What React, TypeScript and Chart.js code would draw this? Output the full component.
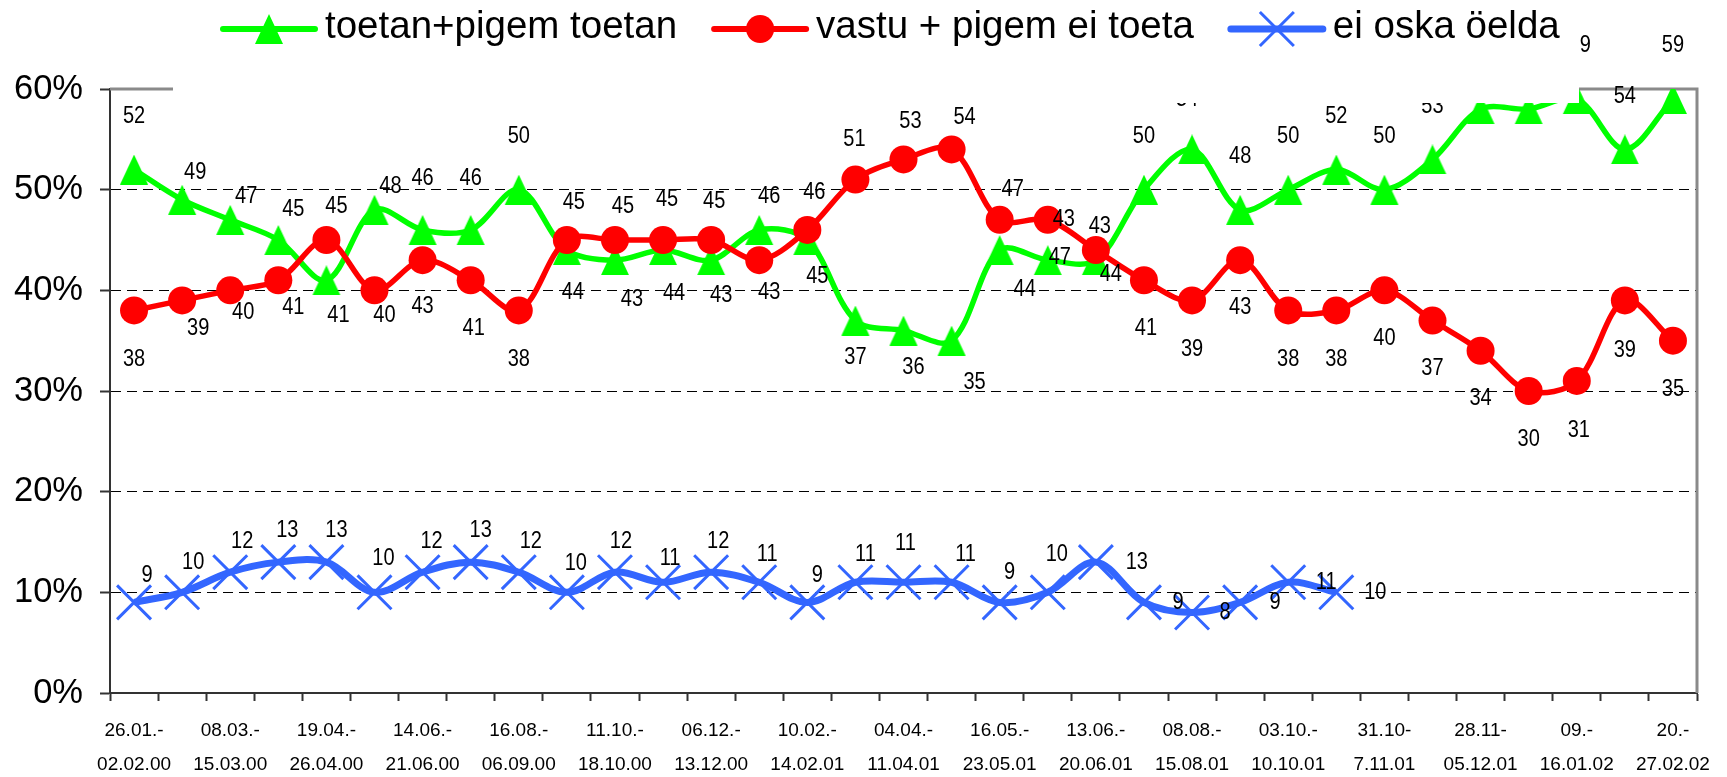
import React, { useEffect, useRef } from 'react';
import { Chart, registerables } from 'chart.js';

Chart.register(...registerables);

const FONT = "'Liberation Sans', Arial, Helvetica, sans-serif";

// Survey periods (every second one is printed on the axis)
const dateLabels: string[][] = [
  ['26.01.-', '02.02.00'],
  ['08.03.-', '15.03.00'],
  ['19.04.-', '26.04.00'],
  ['14.06.-', '21.06.00'],
  ['16.08.-', '06.09.00'],
  ['11.10.-', '18.10.00'],
  ['06.12.-', '13.12.00'],
  ['10.02.-', '14.02.01'],
  ['04.04.-', '11.04.01'],
  ['16.05.-', '23.05.01'],
  ['13.06.-', '20.06.01'],
  ['08.08.-', '15.08.01'],
  ['03.10.-', '10.10.01'],
  ['31.10-', '7.11.01'],
  ['28.11-', '05.12.01'],
  ['09.-', '16.01.02'],
  ['20.-', '27.02.02'],
];

const seriesNames = ['toetan+pigem toetan', 'vastu + pigem ei toeta', 'ei oska öelda'];

const supportValues = [52, 49, 47, 45, 41, 48, 46, 46, 50, 44, 43, 44, 43, 46, 45, 37, 36, 35, 44, 43, 43, 50, 54, 48, 50, 52, 50, 53, 58, 58, 59, 54, 59];
const againstValues = [38, 39, 40, 41, 45, 40, 43, 41, 38, 45, 45, 45, 45, 43, 46, 51, 53, 54, 47, 47, 44, 41, 39, 43, 38, 38, 40, 37, 34, 30, 31, 39, 35];
const dontKnowValues = [9, 10, 12, 13, 13, 10, 12, 13, 12, 10, 12, 11, 12, 11, 9, 11, 11, 11, 9, 10, 13, 9, 8, 9, 11, 10];

const yTicks = [0, 10, 20, 30, 40, 50, 60];

// label placement (pixel offsets from the marker)
const supportLabelOffsets: number[][] = [
  [0, -53], [13, -27], [16, -23], [15, -30], [12, 35], [16, -23], [0, -51], [0, -51], [0, -53], [6, 43],
  [17, 40], [11, 44], [10, 36], [10, -33], [10, 37], [0, 37], [10, 37], [23, 42], [25, 40], [16, -40],
  [4, -33], [0, -53], [-5, -50], [0, -53], [0, -53], [0, -53], [0, -53], [0, -53], [0, -53], [0, -53],
  [3, -53], [0, -53], [0, -53],
];
const againstLabelOffsets: number[][] = [
  [0, 49], [16, 28], [13, 22], [15, 27], [10, -33], [10, 25], [0, 47], [3, 48], [0, 49], [7, -37],
  [8, -33], [4, -40], [3, -38], [10, 33], [7, -37], [-1, -40], [7, -38], [13, -32], [13, -30], [12, 38],
  [15, 25], [2, 48], [0, 49], [0, 48], [0, 49], [0, 49], [0, 48], [0, 48], [0, 48], [0, 49],
  [2, 50], [0, 50], [0, 49],
];
const dontKnowLabelOffsets: number[][] = [
  [13, -27], [11, -30], [12, -31], [9, -31], [10, -31], [9, -34], [9, -31], [10, -31], [12, -31], [9, -29],
  [6, -31], [7, -24], [7, -31], [8, -28], [10, -27], [10, -28], [2, -39], [14, -28], [10, -30], [9, -38],
  [41, 1], [34, 0], [33, 0], [35, 0], [38, 0], [39, 0],
];

const GREEN = '#00FF00';
const RED = '#FF0000';
const BLUE = '#3366FF';

function makeTriangle(color: string): HTMLCanvasElement {
  const c = document.createElement('canvas');
  c.width = 30;
  c.height = 30;
  const g = c.getContext('2d')!;
  g.fillStyle = color;
  g.beginPath();
  g.moveTo(15, 0);
  g.lineTo(29, 30);
  g.lineTo(1, 30);
  g.closePath();
  g.fill();
  return c;
}

export default function App() {
  const canvasRef = useRef<HTMLCanvasElement | null>(null);

  useEffect(() => {
    const canvas = canvasRef.current;
    if (!canvas) return;
    const tri = makeTriangle(GREEN);

    const categories: any[] = [];
    for (let i = 0; i < supportValues.length; i++) {
      categories.push(i % 2 === 0 ? dateLabels[i / 2] : '');
    }

    const offsets = [supportLabelOffsets, againstLabelOffsets, dontKnowLabelOffsets];

    const framePlugin = {
      id: 'frame',
      beforeDatasetsDraw(chart: any) {
        const { ctx, chartArea } = chart;
        ctx.save();
        ctx.strokeStyle = '#8a8a8a';
        ctx.lineWidth = 3;
        ctx.beginPath();
        ctx.moveTo(chartArea.left, chartArea.top);
        ctx.lineTo(chartArea.right, chartArea.top);
        ctx.lineTo(chartArea.right, chartArea.bottom);
        ctx.stroke();
        ctx.restore();
      },
    };

    const labelPlugin = {
      id: 'valueLabels',
      afterDatasetsDraw(chart: any) {
        const ctx = chart.ctx;
        const sx = 0.87;
        chart.data.datasets.forEach((ds: any, di: number) => {
          const meta = chart.getDatasetMeta(di);
          const offs = offsets[di];
          meta.data.forEach((el: any, i: number) => {
            const v = ds.data[i];
            if (v == null) return;
            const o = offs[i] || [0, -30];
            ctx.save();
            ctx.translate(el.x + o[0], el.y + o[1]);
            ctx.scale(sx, 1);
            ctx.font = `23px ${FONT}`;
            ctx.fillStyle = '#000';
            ctx.textAlign = 'center';
            ctx.textBaseline = 'middle';
            ctx.fillText(String(v), 0, 0);
            ctx.restore();
          });
        });
      },
    };

    const legendPlugin = {
      id: 'customLegend',
      afterDraw(chart: any) {
        const ctx = chart.ctx;
        ctx.save();
        // legend box (white) overlapping the top of the plot
        ctx.fillStyle = '#fff';
        ctx.fillRect(173, 0, 1579 - 173, 103);

        ctx.font = `38.5px ${FONT}`;
        const lineLen = 92;
        const textGap = 10;
        const itemGap = 37;
        const widths = seriesNames.map((n) => ctx.measureText(n).width);
        let x = 223;
        const y = 29;
        const colors = [GREEN, RED, BLUE];
        for (let k = 0; k < 3; k++) {
          ctx.strokeStyle = colors[k];
          ctx.lineWidth = k === 2 ? 7 : 6;
          ctx.lineCap = 'round';
          ctx.beginPath();
          ctx.moveTo(x, y);
          ctx.lineTo(x + lineLen, y);
          ctx.stroke();
          const cx = x + lineLen / 2;
          if (k === 0) {
            ctx.drawImage(tri, cx - 15, y - 15);
          } else if (k === 1) {
            ctx.fillStyle = RED;
            ctx.beginPath();
            ctx.arc(cx, y, 14, 0, Math.PI * 2);
            ctx.fill();
          } else {
            ctx.lineWidth = 3;
            ctx.lineCap = 'butt';
            const a = 17;
            ctx.beginPath();
            ctx.moveTo(cx - a, y - a);
            ctx.lineTo(cx + a, y + a);
            ctx.moveTo(cx + a, y - a);
            ctx.lineTo(cx - a, y + a);
            ctx.stroke();
          }
          ctx.fillStyle = '#000';
          ctx.textAlign = 'left';
          ctx.textBaseline = 'alphabetic';
          ctx.fillText(seriesNames[k], x + lineLen + textGap, 38);
          x += lineLen + textGap + widths[k] + itemGap;
        }
        ctx.restore();
      },
    };

    const chart = new Chart(canvas, {
      type: 'line',
      data: {
        labels: categories,
        datasets: [
          {
            label: seriesNames[0],
            data: supportValues,
            borderColor: GREEN,
            backgroundColor: GREEN,
            borderWidth: 5.5,
            tension: 0.33,
            pointStyle: tri as any,
            pointRadius: 15,
            order: 3,
          },
          {
            label: seriesNames[1],
            data: againstValues,
            borderColor: RED,
            backgroundColor: RED,
            borderWidth: 5.5,
            tension: 0.33,
            pointStyle: 'circle',
            pointRadius: 14,
            pointBackgroundColor: RED,
            pointBorderColor: RED,
            pointBorderWidth: 0,
            order: 2,
          },
          {
            label: seriesNames[2],
            data: dontKnowValues,
            borderColor: BLUE,
            backgroundColor: BLUE,
            borderWidth: 7,
            tension: 0.35,
            pointStyle: 'crossRot',
            pointRadius: 24,
            pointBorderWidth: 3,
            pointBorderColor: BLUE,
            order: 1,
          },
        ],
      },
      options: {
        responsive: false,
        animation: false,
        events: [],
        layout: { padding: { left: 0, top: 89, right: 30, bottom: 0 } },
        plugins: {
          legend: { display: false },
          tooltip: { enabled: false },
          title: { display: false },
        },
        scales: {
          x: {
            type: 'category',
            offset: true,
            grid: {
              offset: true,
              drawOnChartArea: false,
              drawTicks: true,
              tickLength: 8,
              tickColor: '#333',
              tickWidth: 2,
            },
            border: { display: true, color: '#333', width: 2 },
            ticks: {
              autoSkip: false,
              maxRotation: 0,
              minRotation: 0,
              padding: 13,
              color: '#000',
              font: { family: FONT, size: 19, lineHeight: 34 / 19 },
            },
            afterFit: (s: any) => {
              s.height = 84;
            },
          } as any,
          y: {
            min: yTicks[0],
            max: yTicks[yTicks.length - 1],
            afterBuildTicks: (s: any) => {
              s.ticks = yTicks.map((v) => ({ value: v }));
            },
            ticks: {
              stepSize: 10,
              padding: 17,
              color: '#000',
              font: { family: FONT, size: 34.5 },
              callback: (v: any) => v + '%',
            },
            grid: {
              color: (c: any) => (c.tick && (c.tick.value === 0 || c.tick.value === 60) ? 'rgba(0,0,0,0)' : '#000'),
              lineWidth: 1,
              tickColor: '#333',
              tickWidth: 2,
              tickLength: 10,
              tickBorderDash: [],
            },
            border: { display: true, color: '#333', width: 2, dash: [10, 6] },
            afterFit: (s: any) => {
              s.width = 110;
            },
          } as any,
        },
      },
      plugins: [framePlugin, labelPlugin, legendPlugin],
    });

    return () => {
      chart.destroy();
    };
  }, []);

  return (
    <div style={{ position: 'absolute', left: 0, top: 0, width: 1727, height: 777, background: '#fff' }}>
      <canvas ref={canvasRef} width={1727} height={777} style={{ display: 'block' }} />
    </div>
  );
}
